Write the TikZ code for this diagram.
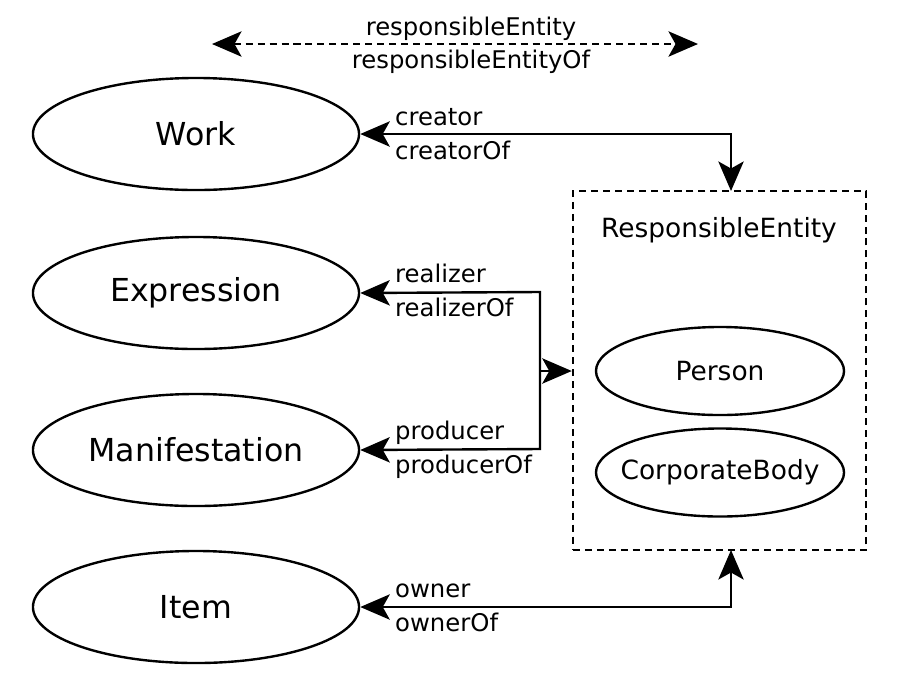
\documentclass[tikz,border=0pt]{standalone}
\usepackage{fontspec}
\setmainfont{DejaVu Sans}
\usetikzlibrary{shapes.geometric,arrows.meta}
\begin{document}
\begin{tikzpicture}[x=0.025cm,y=-0.025cm,
  every path/.style={line width=1.7pt},
  bigell/.style={ellipse,draw,line width=1.7pt,minimum width=8.15cm,minimum height=2.8cm,inner sep=0pt,font=\fontsize{22.5}{26}\selectfont},
  smallell/.style={ellipse,draw,line width=1.7pt,minimum width=6.2cm,minimum height=2.2cm,inner xsep=-0.6cm,inner ysep=0pt,font=\fontsize{18.8}{22}\selectfont},
  lbl/.style={anchor=base west,inner sep=0pt,font=\fontsize{17.3}{20}\selectfont},
  toplbl/.style={anchor=base,inner sep=0pt,font=\fontsize{17.3}{20}\selectfont},
  arr/.style={line width=1.7pt,{Stealth[length=21pt,width=18pt,inset=5pt]}-{Stealth[length=21pt,width=18pt,inset=5pt]}},
  arrone/.style={line width=1.7pt,-{Stealth[length=21pt,width=18pt,inset=5pt]}},
  dashbox/.style={draw,line width=1.7pt,dash pattern=on 5pt off 3.5pt,minimum width=7.325cm,minimum height=8.975cm,inner sep=0pt}
]
\fill[white] (0,0) rectangle (900,680);
\useasboundingbox (0,0) rectangle (900,680);

\node[bigell] (work) at (196,134) {Work};
\node[bigell] (expr) at (196,293) {Expression};
\node[bigell] (manif) at (196,450) {Manifestation};
\node[bigell] (item) at (196,607) {Item};

\node[dashbox] (box) at (719.5,370.5) {};
\node[anchor=base,inner sep=0pt,font=\fontsize{18.8}{22}\selectfont] (retitle) at (719,237) {ResponsibleEntity};
\node[smallell] (person) at (720,371) {Person};
\node[smallell] (corp) at (720,472.5) {CorporateBody};

% top dashed
\coordinate (tl) at (212,44);
\coordinate (tr) at (698,44);
\draw[arr,dash pattern=on 5pt off 3.5pt] (tl) -- (tr);
\node[toplbl] (re) at (471,35) {responsibleEntity};
\node[toplbl] (reof) at (471,68) {responsibleEntityOf};

% creator
\coordinate (ctop) at (731,191);
\draw[arr] (work.east) -| (ctop);
\node[lbl] (cr) at (394,125) {creator};
\node[lbl] (crof) at (394,159) {creatorOf};

% realizer / producer
\coordinate (j1) at (540,292);
\coordinate (j2) at (540,449);
\coordinate (jm) at (540,371);
\draw[arr] (expr.east) -- (j1) -- (j2) -- (manif.east);
\draw[arrone] (jm) -- (box.west |- jm);
\node[lbl] (rz) at (394,282) {realizer};
\node[lbl] (rzof) at (394,316) {realizerOf};
\node[lbl] (pr) at (394,439) {producer};
\node[lbl] (prof) at (394,473) {producerOf};

% owner
\coordinate (cbot) at (731,550);
\draw[arr] (item.east) -| (cbot);
\node[lbl] (ow) at (394,597) {owner};
\node[lbl] (owof) at (394,631) {ownerOf};
\end{tikzpicture}
\end{document}
